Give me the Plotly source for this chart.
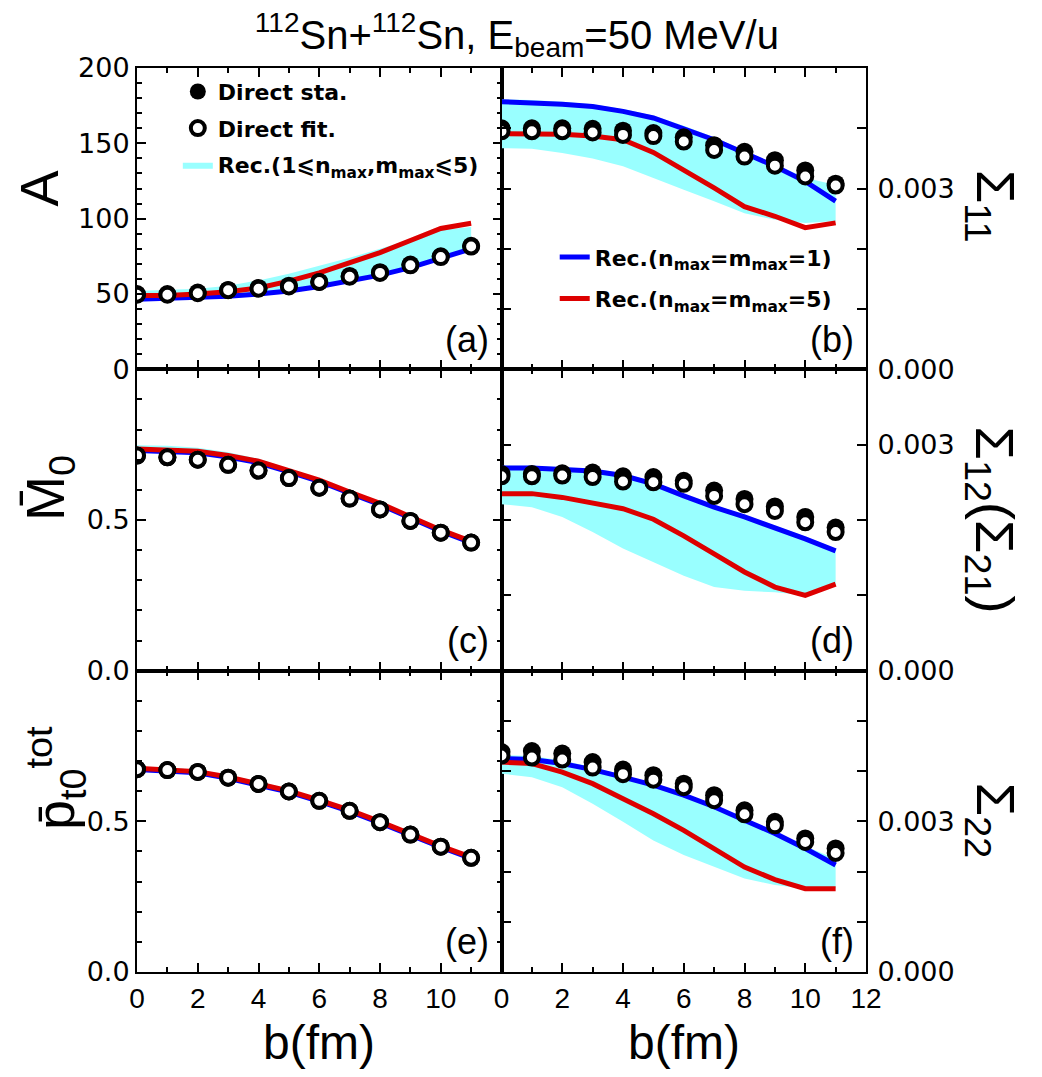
import plotly.graph_objects as go
from plotly.subplots import make_subplots

# ---------------- data ----------------
b = [0, 1, 2, 3, 4, 5, 6, 7, 8, 9, 10, 11]

# (a) A
A_sta = [50, 50, 51, 52.7, 54, 55.5, 58, 62, 64.5, 69.5, 75, 82]
A_fit = [49.5, 49.5, 50.5, 52.5, 53.5, 55, 58, 61.5, 64, 69, 74.5, 81.5]
A_rec1 = [46.5, 47, 47.5, 48.5, 50, 52, 55, 58.5, 62.5, 67.5, 73.5, 80]
A_rec5 = [49, 49, 50, 51.5, 54, 58.5, 64, 70.5, 77.5, 85.5, 93.5, 97]
A_lo = [46, 46.5, 47, 48, 49.5, 51.5, 54.5, 58, 62, 67, 73, 79.5]
A_hi = [52, 52.5, 53.5, 55.5, 59, 63.5, 68.5, 74, 80, 86.5, 92.5, 94.5]

# (b) Sigma_11
S11_sta = [0.00400, 0.00400, 0.00400, 0.00399, 0.00396, 0.00392, 0.00385, 0.00372, 0.00361, 0.00347, 0.00330, 0.00308]
S11_fit = [0.00395, 0.00395, 0.00395, 0.00393, 0.00389, 0.00387, 0.00378, 0.00364, 0.00353, 0.00338, 0.00320, 0.00305]
S11_rec1 = [0.00444, 0.00443, 0.00440, 0.00436, 0.00428, 0.00417, 0.00400, 0.00381, 0.00359, 0.00337, 0.00312, 0.00279]
S11_rec5 = [0.00391, 0.00391, 0.00390, 0.00387, 0.00381, 0.00360, 0.00331, 0.00301, 0.00270, 0.00254, 0.00235, 0.00243]
S11_lo = [0.00367, 0.00366, 0.00359, 0.00350, 0.00337, 0.00317, 0.00298, 0.00279, 0.00259, 0.00248, 0.00243, 0.00246]
S11_hi = [0.00448, 0.00447, 0.00444, 0.00440, 0.00432, 0.00421, 0.00404, 0.00385, 0.00363, 0.00341, 0.00318, 0.00306]

# (c) M0
M0_sta = [0.714, 0.708, 0.700, 0.683, 0.664, 0.639, 0.607, 0.571, 0.535, 0.497, 0.458, 0.425]
M0_fit = [0.714, 0.708, 0.700, 0.683, 0.664, 0.639, 0.607, 0.571, 0.535, 0.497, 0.458, 0.425]
M0_rec1 = [0.731, 0.729, 0.723, 0.709, 0.690, 0.660, 0.628, 0.589, 0.551, 0.507, 0.463, 0.425]
M0_rec5 = [0.736, 0.734, 0.728, 0.714, 0.695, 0.664, 0.632, 0.593, 0.555, 0.511, 0.467, 0.429]
M0_lo = [0.729, 0.727, 0.721, 0.707, 0.688, 0.658, 0.626, 0.587, 0.549, 0.505, 0.461, 0.423]
M0_hi = [0.748, 0.746, 0.740, 0.725, 0.703, 0.670, 0.636, 0.596, 0.557, 0.513, 0.469, 0.431]

# (d) Sigma_12 (Sigma_21)
S12_sta = [0.00261, 0.00261, 0.00262, 0.00263, 0.00258, 0.00257, 0.00252, 0.00239, 0.00228, 0.00218, 0.00204, 0.00190]
S12_fit = [0.00258, 0.00258, 0.00259, 0.00257, 0.00251, 0.00250, 0.00248, 0.00232, 0.00221, 0.00212, 0.00197, 0.00184]
S12_rec1 = [0.00269, 0.00269, 0.00267, 0.00265, 0.00259, 0.00248, 0.00232, 0.00217, 0.00204, 0.00190, 0.00175, 0.00159]
S12_rec5 = [0.00235, 0.00235, 0.00230, 0.00223, 0.00215, 0.00201, 0.00179, 0.00155, 0.00131, 0.00111, 0.00100, 0.00115]
S12_lo = [0.00221, 0.00217, 0.00204, 0.00184, 0.00162, 0.00144, 0.00126, 0.00111, 0.00106, 0.00104, 0.00100, 0.00113]
S12_hi = [0.00272, 0.00272, 0.00270, 0.00268, 0.00262, 0.00251, 0.00235, 0.00220, 0.00207, 0.00193, 0.00178, 0.00162]

# (e) p_t0^tot
P_sta = [0.673, 0.670, 0.664, 0.645, 0.624, 0.599, 0.568, 0.535, 0.497, 0.456, 0.416, 0.379]
P_fit = [0.673, 0.670, 0.664, 0.645, 0.624, 0.599, 0.568, 0.535, 0.497, 0.456, 0.416, 0.379]
P_rec1 = [0.672, 0.668, 0.661, 0.643, 0.622, 0.597, 0.566, 0.533, 0.495, 0.454, 0.414, 0.377]
P_rec5 = [0.676, 0.672, 0.665, 0.647, 0.626, 0.601, 0.570, 0.537, 0.499, 0.458, 0.418, 0.381]
P_lo = [0.670, 0.666, 0.659, 0.641, 0.620, 0.595, 0.564, 0.531, 0.493, 0.452, 0.412, 0.375]
P_hi = [0.682, 0.678, 0.671, 0.653, 0.632, 0.607, 0.576, 0.543, 0.505, 0.464, 0.424, 0.387]

# (f) Sigma_22
S22_sta = [0.00438, 0.00440, 0.00435, 0.00418, 0.00403, 0.00392, 0.00375, 0.00352, 0.00322, 0.00299, 0.00266, 0.00246]
S22_fit = [0.00431, 0.00427, 0.00423, 0.00407, 0.00394, 0.00383, 0.00368, 0.00342, 0.00314, 0.00292, 0.00259, 0.00237]
S22_rec1 = [0.00425, 0.00423, 0.00415, 0.00403, 0.00388, 0.00372, 0.00352, 0.00329, 0.00302, 0.00276, 0.00246, 0.00213]
S22_rec5 = [0.00418, 0.00415, 0.00398, 0.00375, 0.00345, 0.00315, 0.00282, 0.00246, 0.00209, 0.00184, 0.00166, 0.00166]
S22_lo = [0.00395, 0.00388, 0.00368, 0.00335, 0.00299, 0.00262, 0.00233, 0.00209, 0.00186, 0.00173, 0.00166, 0.00167]
S22_hi = [0.00432, 0.00430, 0.00421, 0.00408, 0.00392, 0.00376, 0.00356, 0.00333, 0.00306, 0.00280, 0.00251, 0.00225]

# tick labels
x_left_ticks = [0, 2, 4, 6, 8, 10]
x_right_ticks = [0, 2, 4, 6, 8, 10, 12]
panel_letters = ["(a)", "(b)", "(c)", "(d)", "(e)", "(f)"]

# ---------------- styling ----------------
CYAN = "#99ffff"
BLUE = "#0000ff"
RED = "#dd0000"
SANS = "Liberation Sans, Arial, sans-serif"
TICKFONT_X = dict(family=SANS, size=28, color="black")
TICKFONT_Y = dict(family="DejaVu Sans, sans-serif", size=27, color="black")
LEGFONT = dict(family="DejaVu Sans, sans-serif", size=22, color="black", weight="bold")

fig = make_subplots(rows=3, cols=2, horizontal_spacing=0, vertical_spacing=0)

panels = [
    (1, 1, A_sta, A_fit, A_rec1, A_rec5, A_lo, A_hi),
    (1, 2, S11_sta, S11_fit, S11_rec1, S11_rec5, S11_lo, S11_hi),
    (2, 1, M0_sta, M0_fit, M0_rec1, M0_rec5, M0_lo, M0_hi),
    (2, 2, S12_sta, S12_fit, S12_rec1, S12_rec5, S12_lo, S12_hi),
    (3, 1, P_sta, P_fit, P_rec1, P_rec5, P_lo, P_hi),
    (3, 2, S22_sta, S22_fit, S22_rec1, S22_rec5, S22_lo, S22_hi),
]

for (r, c, sta, fit, r1, r5, lo, hi) in panels:
    show = (r == 1 and c == 1)
    fig.add_trace(go.Scatter(x=b, y=lo, mode="lines", line=dict(width=0, color=CYAN),
                             showlegend=False, hoverinfo="skip"), row=r, col=c)
    fig.add_trace(go.Scatter(x=b, y=hi, mode="lines", line=dict(width=0, color=CYAN),
                             fill="tonexty", fillcolor=CYAN,
                             name="Rec.(1⩽n<sub>max</sub>,m<sub>max</sub>⩽5)",
                             legend="legend", legendgroup="band", legendrank=3,
                             showlegend=show), row=r, col=c)
    fig.add_trace(go.Scatter(x=b, y=r1, mode="lines", line=dict(width=5, color=BLUE),
                             name="Rec.(n<sub>max</sub>=m<sub>max</sub>=1)",
                             legend="legend2", legendgroup="rec1", legendrank=1,
                             showlegend=show), row=r, col=c)
    fig.add_trace(go.Scatter(x=b, y=r5, mode="lines", line=dict(width=5, color=RED),
                             name="Rec.(n<sub>max</sub>=m<sub>max</sub>=5)",
                             legend="legend2", legendgroup="rec5", legendrank=2,
                             showlegend=show), row=r, col=c)
    fig.add_trace(go.Scatter(x=b, y=sta, mode="markers",
                             marker=dict(symbol="circle", size=18, color="black",
                                         line=dict(width=0)),
                             name="Direct sta.", legend="legend", legendgroup="sta",
                             legendrank=1, showlegend=show), row=r, col=c)
    fig.add_trace(go.Scatter(x=b, y=fit, mode="markers",
                             marker=dict(symbol="circle", size=14, color="white",
                                         line=dict(width=4, color="black")),
                             name="Direct fit.", legend="legend", legendgroup="fit",
                             legendrank=2, showlegend=show), row=r, col=c)

axis_common = dict(showline=True, linewidth=2, linecolor="black", mirror="allticks",
                   ticks="inside", ticklen=9, tickwidth=2, tickcolor="black",
                   showgrid=False, zeroline=False)

# x axes
for r in (1, 2, 3):
    for c in (1, 2):
        fig.update_xaxes(
            **axis_common, range=[0, 12],
            tickmode="array",
            tickvals=x_left_ticks if c == 1 else x_right_ticks,
            showticklabels=(r == 3), tickfont=TICKFONT_X,
            minor=dict(ticks="inside", ticklen=5, tickwidth=2, tickcolor="black", dtick=1),
            row=r, col=c)

# y axes left
fig.update_yaxes(**axis_common, range=[0, 200], tickmode="array",
                 tickvals=[0, 50, 100, 150, 200], tickfont=TICKFONT_Y,
                 minor=dict(ticks="inside", ticklen=5, tickwidth=2, tickcolor="black", dtick=10),
                 row=1, col=1)
for r in (2, 3):
    fig.update_yaxes(**axis_common, range=[0, 1], tickmode="array",
                     tickvals=[0, 0.5, 1.0], ticktext=["0.0", "0.5", ""], tickfont=TICKFONT_Y,
                     minor=dict(ticks="inside", ticklen=5, tickwidth=2, tickcolor="black", dtick=0.1),
                     row=r, col=1)

# y axes right
right_specs = {
    1: ([0, 0.001, 0.002, 0.003, 0.004, 0.005], ["0.000", "", "", "0.003", "", ""], 0.005),
    2: ([0, 0.001, 0.002, 0.003, 0.004], ["0.000", "", "", "0.003", ""], 0.004),
    3: ([0, 0.001, 0.002, 0.003, 0.004, 0.005, 0.006], ["0.000", "", "", "0.003", "", "", ""], 0.006),
}
for r, (tv, tt, top) in right_specs.items():
    fig.update_yaxes(**axis_common, side="right", range=[0, top], tickmode="array",
                     tickvals=tv, ticktext=tt, tickfont=TICKFONT_Y, ticklabelstandoff=4,
                     row=r, col=2)

# panel letters
axis_refs = [("x", "y"), ("x2", "y2"), ("x3", "y3"), ("x4", "y4"), ("x5", "y5"), ("x6", "y6")]
for (xr, yr), lab in zip(axis_refs, panel_letters):
    fig.add_annotation(text=lab, xref=xr + " domain", yref=yr + " domain",
                       x=0.972, y=0.025, xanchor="right", yanchor="bottom", showarrow=False,
                       font=dict(family=SANS, size=36, color="black"))

# axis titles
TFONT = dict(family=SANS, size=54, color="black")
fig.add_annotation(text="A", xref="paper", yref="paper", x=-0.134, y=0.867,
                   textangle=-90, showarrow=False, font=TFONT, xanchor="center", yanchor="middle")
fig.add_annotation(text="M\u0304<sub>0</sub>", xref="paper", yref="paper", x=-0.120, y=0.535,
                   textangle=-90, showarrow=False, font=TFONT, xanchor="center", yanchor="middle")
fig.add_annotation(text="p\u0304<sub>t0</sub><sup>tot</sup>", xref="paper", yref="paper", x=-0.112, y=0.215,
                   textangle=-90, showarrow=False, font=TFONT, xanchor="center", yanchor="middle")
for txt, yy in [("Σ<sub>11</sub>", 0.847), ("Σ<sub>12</sub>(Σ<sub>21</sub>)", 0.500), ("Σ<sub>22</sub>", 0.168)]:
    fig.add_annotation(text=txt, xref="paper", yref="paper", x=1.172, y=yy,
                       textangle=90, showarrow=False, font=TFONT, xanchor="center", yanchor="middle")
XTFONT = dict(family=SANS, size=48, color="black")
fig.add_annotation(text="b(fm)", xref="x5 domain", yref="paper", x=0.5, y=-0.046,
                   showarrow=False, font=XTFONT, xanchor="center", yanchor="top")
fig.add_annotation(text="b(fm)", xref="x6 domain", yref="paper", x=0.5, y=-0.046,
                   showarrow=False, font=XTFONT, xanchor="center", yanchor="top")

# page body has an 8px margin: shrink the figure so the plot area lands where the reference has it
fig.update_layout(
    width=1026, height=1061,
    margin=dict(l=129, r=168, t=60, b=97),
    paper_bgcolor="white", plot_bgcolor="white",
    title=dict(text="<sup>112</sup>Sn+<sup>112</sup>Sn, E<sub>beam</sub>=50 MeV/u",
               x=0.496, xref="container", xanchor="center",
               y=0.975, yref="container", yanchor="middle",
               font=dict(family=SANS, size=40, color="black")),
    legend=dict(x=0.056, y=0.997, xanchor="left", yanchor="top", font=LEGFONT,
                bgcolor="rgba(0,0,0,0)", traceorder="grouped", tracegroupgap=5,
                itemsizing="trace"),
    legend2=dict(x=0.573, y=0.814, xanchor="left", yanchor="top", font=LEGFONT,
                 bgcolor="rgba(0,0,0,0)", traceorder="grouped", tracegroupgap=10),
    showlegend=True,
)

fig.write_html("out.html")
